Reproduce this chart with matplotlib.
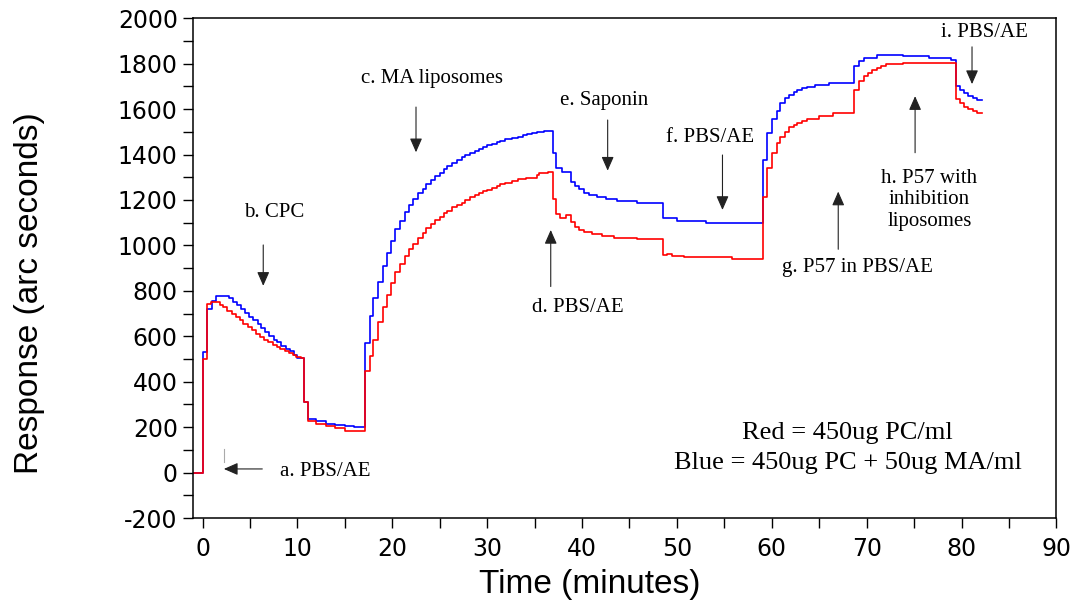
import matplotlib.pyplot as plt
from matplotlib.ticker import MultipleLocator

plt.rcParams['axes.unicode_minus'] = False

# step curves: time (min) where each level starts, and level (arc seconds)
blue_t = [-0.9, 0.07, 0.5, 1.0, 1.4, 2.8, 3.2, 3.6, 4.1, 4.5, 4.9, 5.3, 5.8, 6.2, 6.6,
          7.0, 7.5, 7.9, 8.3, 8.8, 9.2, 9.6, 10.0, 10.7, 11.1, 12.0, 13.0, 14.0, 15.0,
          16.0, 17.1, 17.6, 18.0, 18.5, 19.0, 19.4, 19.9, 20.3, 20.8, 21.3, 21.8, 22.2,
          22.7, 23.2, 23.6, 24.1, 24.5, 25.0, 25.4, 25.8, 26.3, 26.8, 27.3, 27.7, 28.2,
          28.7, 29.1, 29.6, 30.0, 30.5, 31.0, 31.4, 31.9, 32.6, 33.3, 33.8, 34.2, 34.7,
          35.2, 36.0, 36.9, 37.3, 37.9, 38.8, 39.3, 39.7, 40.2, 40.7, 41.6, 42.5, 43.7,
          45.8, 48.5, 50.0, 53.1, 59.1, 59.5, 60.0, 60.5, 60.9, 61.4, 61.8, 62.3, 62.7,
          63.2, 63.7, 64.6, 66.0, 68.7, 69.2, 69.7, 71.1, 73.8, 76.6, 78.9, 79.4, 79.8,
          80.3, 80.7, 81.2, 81.6, 82.2]
blue_v = [0, 529, 720, 757, 778, 768, 753, 738, 721, 702, 684, 670, 654, 636, 618,
          602, 585, 573, 558, 544, 533, 519, 504, 309, 236, 225, 215, 210, 205,
          202, 570, 690, 768, 841, 910, 968, 1021, 1073, 1108, 1149, 1178, 1203,
          1230, 1250, 1270, 1288, 1306, 1320, 1335, 1350, 1361, 1376, 1388, 1398, 1408,
          1417, 1426, 1435, 1440, 1446, 1455, 1461, 1467, 1473, 1478, 1485, 1490, 1496,
          1499, 1505, 1405, 1342, 1325, 1281, 1262, 1248, 1232, 1222, 1212, 1204, 1196,
          1188, 1120, 1109, 1100, 1376, 1496, 1555, 1593, 1628, 1647, 1662, 1676, 1684,
          1691, 1698, 1706, 1713, 1789, 1812, 1827, 1838, 1833, 1827, 1815, 1701, 1684,
          1672, 1657, 1647, 1640, 1640]

red_t = [-0.9, 0.07, 0.5, 0.9, 1.8, 2.2, 2.6, 3.1, 3.5, 3.9, 4.3, 4.8, 5.2, 5.6, 6.1,
         6.5, 6.9, 7.4, 7.8, 8.2, 8.7, 9.1, 9.5, 9.9, 10.4, 10.7, 11.1, 12.0, 13.0,
         14.0, 15.0, 16.0, 17.1, 17.6, 18.0, 18.5, 19.0, 19.4, 19.9, 20.3, 20.8, 21.3,
         21.8, 22.2, 22.7, 23.2, 23.6, 24.1, 24.5, 25.0, 25.4, 25.8, 26.3, 26.8, 27.3,
         27.7, 28.2, 28.7, 29.1, 29.6, 30.0, 30.5, 31.0, 31.4, 31.9, 32.6, 33.3, 34.1,
         35.2, 35.5, 36.4, 36.9, 37.3, 37.7, 38.3, 38.8, 39.3, 39.7, 40.2, 41.0, 42.1,
         43.4, 45.8, 48.5, 49.0, 49.5, 50.7, 55.8, 59.1, 59.5, 60.0, 60.5, 60.9, 61.4,
         61.8, 62.3, 62.7, 63.2, 63.7, 65.0, 66.4, 68.7, 69.2, 69.7, 70.1, 70.6, 71.1,
         71.5, 72.0, 73.8, 79.4, 79.8, 80.3, 80.7, 81.2, 81.6, 82.2]
red_v = [0, 501, 743, 749, 738, 728, 713, 698, 684, 670, 654, 639, 626, 611, 597,
         585, 573, 563, 553, 544, 533, 526, 519, 509, 504, 309, 228, 215, 205,
         195, 185, 182, 445, 514, 585, 661, 731, 782, 834, 881, 919, 954,
         983, 1007, 1034, 1056, 1076, 1095, 1112, 1127, 1142, 1153, 1168, 1178, 1188,
         1200, 1212, 1222, 1230, 1238, 1245, 1253, 1262, 1269, 1276, 1282, 1291, 1298,
         1310, 1317, 1325, 1203, 1139, 1120, 1134, 1105, 1083, 1068, 1059, 1051, 1042,
         1034, 1027, 958, 963, 954, 948, 940, 1212, 1339, 1408, 1452, 1478, 1500,
         1520, 1530, 1540, 1549, 1556, 1569, 1581, 1684, 1725, 1745, 1761, 1771, 1780,
         1789, 1798, 1805, 1643, 1625, 1610, 1599, 1591, 1584, 1584]

# event labels: text, text position, arrow tail, arrow tip
labels = ['a. PBS/AE', 'b. CPC', 'c. MA liposomes', 'd. PBS/AE', 'e. Saponin',
          'f. PBS/AE', 'g. P57 in PBS/AE', 'h. P57 with\ninhibition\nliposomes', 'i. PBS/AE']
label_xy = [(8.2, 5), (7.6, 1143), (24.2, 1736), (39.6, 725), (42.3, 1640),
            (53.5, 1477), (69.05, 901), (76.6, 1200), (82.4, 1938)]
arrow_from = [(6.3, 16), (6.4, 1002), (22.5, 1609), (36.7, 819), (42.7, 1552),
              (54.8, 1398), (67.0, 983), (75.1, 1408), (81.1, 1874)]
arrow_to = [(2.25, 16), (6.4, 822), (22.5, 1410), (36.7, 1068), (42.7, 1329),
            (54.8, 1156), (67.0, 1237), (75.1, 1657), (81.1, 1710)]

fig = plt.figure(figsize=(10.82, 6.08), dpi=100)
ax = fig.add_axes([0.1784, 0.148, 0.798, 0.822])

ax.step(blue_t, blue_v, where='post', color='#0000ff', lw=1.2)
ax.step(red_t, red_v, where='post', color='#ff0000', lw=1.2)

ax.set_xlim(-1, 90)
ax.set_ylim(-200, 2000)
ax.xaxis.set_major_locator(MultipleLocator(10))
ax.xaxis.set_minor_locator(MultipleLocator(5))
ax.yaxis.set_major_locator(MultipleLocator(200))
ax.yaxis.set_minor_locator(MultipleLocator(100))
ax.tick_params(which='both', direction='out', length=7, width=1.0, color='black')
ax.tick_params(axis='y', labelsize=17, pad=4)
ax.tick_params(axis='x', labelsize=17, pad=7)
for sp in ax.spines.values():
    sp.set_linewidth(1.1)

ax.set_xlabel('Time (minutes)', fontsize=24, family='Liberation Sans')
ax.xaxis.set_label_coords(0.4595, -0.102)
ax.set_ylabel('Response (arc seconds)', fontsize=24, family='Liberation Sans')
ax.yaxis.set_label_coords(-0.172, 0.45)

serif = 'Liberation Serif'
for txt, xy, p0, p1 in zip(labels, label_xy, arrow_from, arrow_to):
    ha = 'left' if txt.startswith('a.') else 'center'
    ax.text(xy[0], xy[1], txt, ha=ha, va='center', fontsize=15, family=serif,
            linespacing=1.15)
    ax.annotate('', xy=p1, xytext=p0,
                arrowprops=dict(arrowstyle='-|>,head_length=0.5,head_width=0.22',
                                color='#222222', lw=0.8, mutation_scale=17,
                                shrinkA=0, shrinkB=0))

# small grey mark near the first injection
ax.plot([2.25, 2.25], [48, 105], color='#aaaaaa', lw=0.8)

ax.text(68.0, 176, 'Red = 450ug PC/ml', ha='center', va='center', fontsize=19, family=serif)
ax.text(68.0, 44, 'Blue = 450ug PC + 50ug MA/ml', ha='center', va='center', fontsize=19,
        family=serif)

plt.savefig('out.png', dpi=100)
